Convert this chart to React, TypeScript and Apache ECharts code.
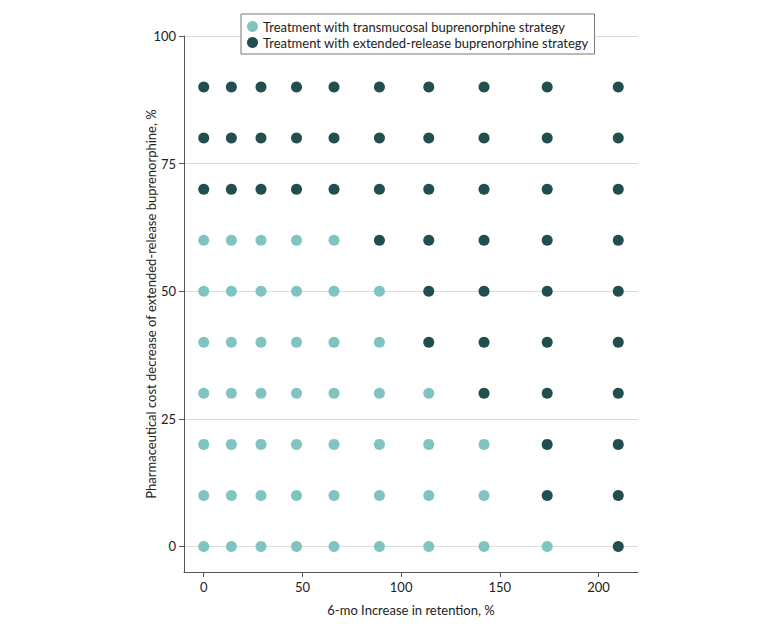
import React, { useEffect, useRef } from "react";
import * as echarts from "echarts";

const retentionIncrease = [0, 14, 29, 47, 66, 89, 114, 142, 174, 210];
const costDecrease = [0, 10, 20, 30, 40, 50, 60, 70, 80, 90];
// Preferred strategy per cell: rows follow costDecrease, columns follow retentionIncrease
// T = transmucosal, E = extended-release
const strategyGrid = [
  "TTTTTTTTTE",
  "TTTTTTTTEE",
  "TTTTTTTTEE",
  "TTTTTTTEEE",
  "TTTTTTEEEE",
  "TTTTTTEEEE",
  "TTTTTEEEEE",
  "EEEEEEEEEE",
  "EEEEEEEEEE",
  "EEEEEEEEEE",
];
const seriesNames = [
  "Treatment with transmucosal buprenorphine strategy",
  "Treatment with extended-release buprenorphine strategy",
];
const xTicks = [0, 50, 100, 150, 200];
const yTicks = [0, 25, 50, 75, 100];

export default function App() {
  const ref = useRef<HTMLDivElement>(null);
  useEffect(() => {
    if (!ref.current) return;
    const chart = echarts.init(ref.current, null, { renderer: "svg" });
    const tPts: number[][] = [];
    const ePts: number[][] = [];
    strategyGrid.forEach((row, ri) => {
      row.split("").forEach((c, ci) => {
        const p = [retentionIncrease[ci], costDecrease[ri]];
        if (c === "T") tPts.push(p);
        else ePts.push(p);
      });
    });
    const font = "Lato, 'Noto Sans', sans-serif";
    chart.setOption({
      animation: false,
      textStyle: { fontFamily: font },
      grid: { left: 176, right: 134, top: 28, bottom: 54, containLabel: false },
      legend: {
        top: 6,
        left: 233,
        orient: "vertical",
        itemGap: 3,
        itemWidth: 11,
        itemHeight: 11,
        padding: [6, 6, 5, 6],
        borderColor: "#777",
        borderWidth: 1,
        backgroundColor: "#fff",
        textStyle: { fontSize: 13, color: "#222", fontFamily: font },
        data: seriesNames.map((n) => ({ name: n, icon: "circle" })),
      },
      xAxis: {
        type: "value",
        min: -10,
        max: 220,
        interval: 50,
        name: "6-mo Increase in retention, %",
        nameLocation: "middle",
        nameGap: 31,
        nameMoveOverlap: false,
        nameTextStyle: { fontSize: 13, color: "#222" },
        axisLine: { show: true, onZero: false, lineStyle: { color: "#555" } },
        axisTick: { show: true, length: 5, lineStyle: { color: "#555" }, customValues: xTicks },
        axisLabel: { fontSize: 13, color: "#222", margin: 8, customValues: xTicks },
        splitLine: { show: false },
      },
      yAxis: {
        type: "value",
        min: -5,
        max: 100,
        name: "Pharmaceutical cost decrease of extended-release buprenorphine, %",
        nameLocation: "middle",
        nameGap: 27,
        nameMoveOverlap: false,
        nameTextStyle: { fontSize: 13, color: "#222" },
        axisLine: { show: true, onZero: false, lineStyle: { color: "#555" } },
        axisTick: { show: true, length: 5, lineStyle: { color: "#555" }, customValues: yTicks },
        axisLabel: { fontSize: 13, color: "#222", margin: 8, customValues: yTicks },
        splitLine: { show: true, lineStyle: { color: "#dcdcdc" } },
      },
      series: [
        {
          name: seriesNames[0],
          type: "scatter",
          symbolSize: 11,
          itemStyle: { color: "#80c4c1", opacity: 1 },
          data: tPts,
          z: 3,
        },
        {
          name: seriesNames[1],
          type: "scatter",
          symbolSize: 11,
          itemStyle: { color: "#214f50", opacity: 1 },
          data: ePts,
          z: 3,
        },
      ],
    });
    return () => chart.dispose();
  }, []);
  return <div ref={ref} style={{ width: 764, height: 618 }} />;
}
